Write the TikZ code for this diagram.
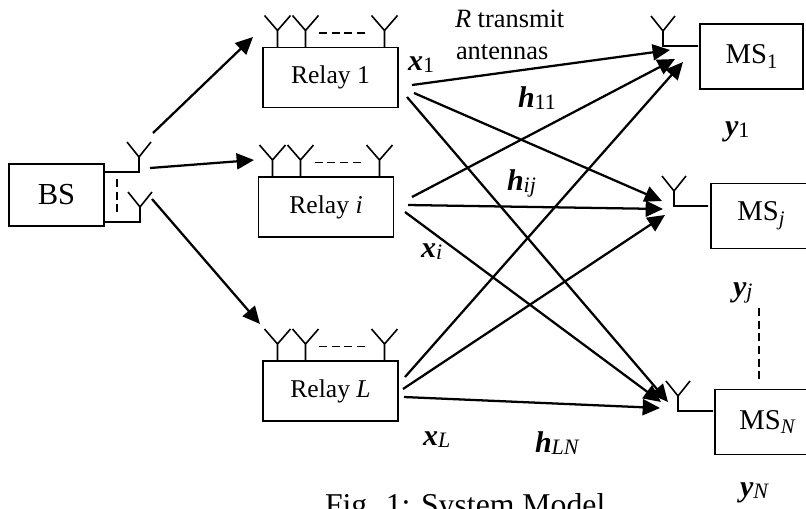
\documentclass[tikz,border=0pt]{standalone}
\usepackage{fontspec}
\setmainfont{Liberation Serif}
\usetikzlibrary{arrows.meta}
\newcommand{\bvec}[2]{{\fontsize{22.5}{26}\selectfont\bfseries\itshape #1}\raisebox{-0.35ex}{\fontsize{16.5}{18}\selectfont #2}}
\newcommand{\mssub}[1]{\raisebox{-0.35ex}{\fontsize{15.5}{18}\selectfont #1}}
\newcommand{\antup}[1]{\draw[antline] (#1) -- ++(0,-17) coordinate (tmpa) -- ++(-13,-15) (tmpa) -- ++(13,-15);}
\newcommand{\antside}[3]{\draw[antline] (#1) -| (#2) -- ++(0,-15) coordinate (tmpa) -- ++(-12,-15) (tmpa) -- ++(12,-15);}
\tikzset{
  antline/.style={line width=1.2pt,line cap=butt,line join=miter},
  boxed/.style={draw,line width=1.2pt,inner sep=0pt,outer sep=0pt,align=center},
  relaybox/.style={boxed,minimum width=101.25pt,minimum height=45pt,font=\fontsize{19.2}{22}\selectfont},
  msbox/.style={boxed,minimum height=48.75pt,font=\fontsize{21.5}{25}\selectfont},
  link/.style={line width=1.7pt,-{Triangle[length=13pt,width=12pt]}},
  gapdash/.style={line width=1.2pt,dash pattern=on 6pt off 3.5pt},
  lab/.style={anchor=base west,inner sep=0pt,outer sep=0pt},
  small/.style={lab,font=\fontsize{19.8}{24}\selectfont}
}
\begin{document}
\begin{tikzpicture}[x=0.75pt,y=-0.75pt]
\useasboundingbox (0,0) rectangle (806,508);
% boxes
\node[boxed,minimum width=71.25pt,minimum height=46.5pt,font=\fontsize{22.9}{26}\selectfont] (bs) at (56.5,195) {BS};
\node[relaybox] (rone) at (330.5,77.5) {Relay 1};
\node[relaybox] (ri) at (326,207) {Relay \textit{i}};
\node[relaybox] (rl) at (330.5,391) {Relay \textit{L}};
\node[msbox,minimum width=77.25pt] (ms1) at (751.5,56.5) {MS\mssub{1}};
\node[msbox,minimum width=75pt] (msj) at (761,216) {MS\mssub{\textit{j}}};
\node[msbox,minimum width=78.75pt] (msn) at (767.5,422) {MS\mssub{\textit{N}}};
% BS antennas
\coordinate (bsa) at (139,172);
\coordinate (bsb) at (140,222);
\coordinate (bsaw) at (bs.east |- bsa);
\coordinate (bsbw) at (bs.east |- bsb);
\antside{bsaw}{bsa}{}
\antside{bsbw}{bsb}{}
\coordinate (bsd1) at (117,179);
\coordinate (bsd2) at (117,214);
\draw[gapdash] (bsd1) -- (bsd2);
% relay antennas
\foreach \r/\xa/\xb/\xc/\da/\db in {rone/14.5/42.5/121.5/56/106, ri/14/42/121/56/106, rl/14.5/42.5/121.5/56/106}{
  \coordinate (\r a) at ([xshift=\xa*0.75pt]\r.north west);
  \coordinate (\r b) at ([xshift=\xb*0.75pt]\r.north west);
  \coordinate (\r c) at ([xshift=\xc*0.75pt]\r.north west);
  \antup{\r a}
  \antup{\r b}
  \antup{\r c}
  \coordinate (\r d1) at ([xshift=\da*0.75pt,yshift=11pt]\r.north west);
  \coordinate (\r d2) at ([xshift=\db*0.75pt,yshift=11pt]\r.north west);
  \draw[gapdash] (\r d1) -- (\r d2);
}
% MS antennas
\coordinate (ma) at (663,46);
\coordinate (mb) at (674,206);
\coordinate (mc) at (678,411);
\coordinate (mae) at (698,46);
\coordinate (mbe) at (708,206);
\coordinate (mce) at (713,411);
\antside{mae}{ma}{}
\antside{mbe}{mb}{}
\antside{mce}{mc}{}
% dashed between MS_j and MS_N
\coordinate (vd1) at (759,308);
\coordinate (vd2) at (759,384);
\draw[gapdash] (vd1) -- (vd2);
% BS to relay arrows
\coordinate (s1) at (153,133);
\coordinate (t1) at (253,37);
\coordinate (s2) at (150,168);
\coordinate (t2) at (254,160);
\coordinate (s3) at (152,199);
\coordinate (t3) at (260,324);
\draw[link] (s1) -- (t1);
\draw[link] (s2) -- (t2);
\draw[link] (s3) -- (t3);
% relay to MS arrows
\coordinate (o11) at (412,85);  \coordinate (e11) at (670,50);
\coordinate (o12) at (414,93);  \coordinate (e12) at (662,201);
\coordinate (o13) at (407,97);  \coordinate (e13) at (668,402);
\coordinate (o21) at (412,197); \coordinate (e21) at (675,59);
\coordinate (o22) at (408,205); \coordinate (e22) at (663,209);
\coordinate (o23) at (405,212); \coordinate (e23) at (661,402);
\coordinate (o31) at (405,377); \coordinate (e31) at (683,62);
\coordinate (o32) at (403,389); \coordinate (e32) at (665,215);
\coordinate (o33) at (404,397); \coordinate (e33) at (660,408);
\foreach \i in {1,2,3}{\foreach \j in {1,2,3}{\draw[link] (o\i\j) -- (e\i\j);}}
% labels
\node[lab] (lx1) at (408,70) {\bvec{x}{1}};
\node[lab] (lxi) at (421,257) {\bvec{x}{\textit{i}}};
\node[lab] (lxl) at (423,445) {\bvec{x}{\textit{L}}};
\node[lab] (lh11) at (518,107) {\bvec{h}{11}};
\node[lab] (lhij) at (507,190) {\bvec{h}{\textit{ij}}};
\node[lab] (lhln) at (535,452) {\bvec{h}{\textit{LN}}};
\node[lab] (ly1) at (725,135) {\bvec{y}{1}};
\node[lab] (lyj) at (733,296) {\bvec{y}{\textit{j}}};
\node[lab] (lyn) at (740,496) {\bvec{y}{\textit{N}}};
\node[small] (lr) at (455,27) {\textit{R} transmit};
\node[small] (la) at (456,59) {antennas};
\node[lab,font=\fontsize{23.8}{28}\selectfont] (cap) at (325,515) {Fig. 1: System Model};
\end{tikzpicture}
\end{document}
